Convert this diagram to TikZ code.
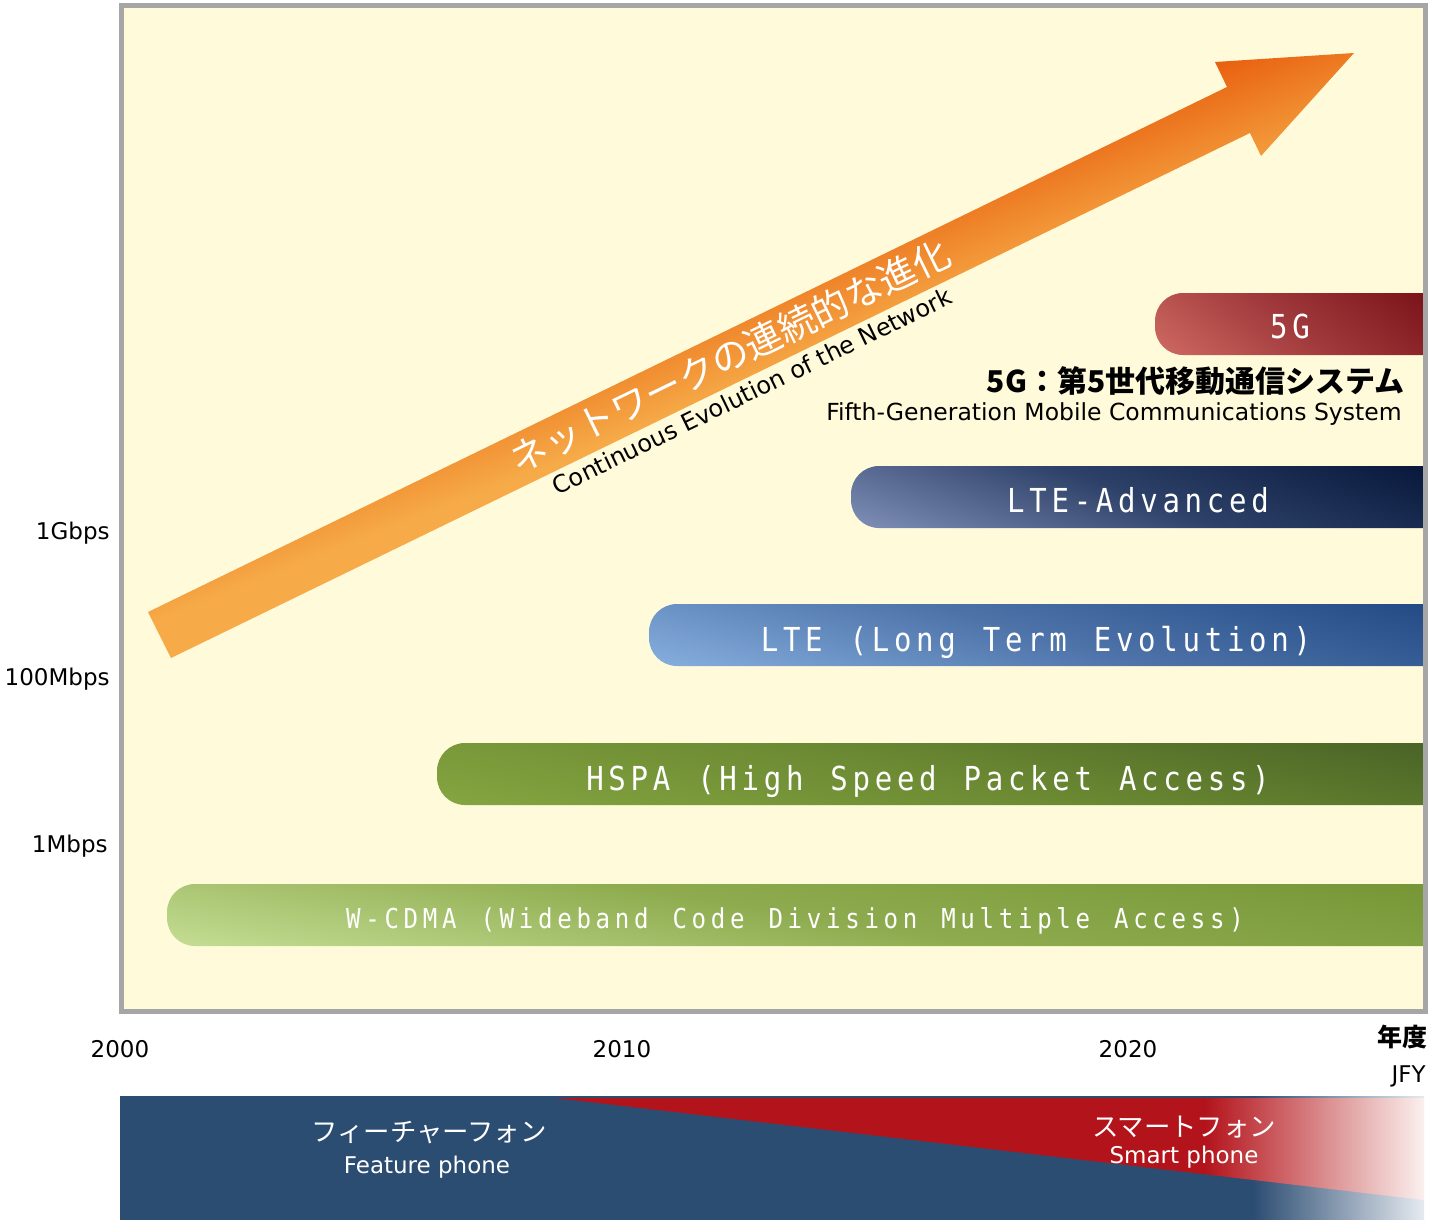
\documentclass[tikz,border=0pt]{standalone}
\usepackage{fontspec}
\setmainfont{DejaVu Sans}
\newfontfamily\cjk{Noto Sans CJK JP}
\newfontfamily\monof[FakeStretch=0.88]{DejaVu Sans Mono}
\definecolor{bgc}{HTML}{FFFBDA}
\definecolor{framec}{HTML}{A6A6A6}
\definecolor{fpblue}{HTML}{2C4D72}
\definecolor{fpfade}{HTML}{E6EAF0}
\definecolor{spred}{HTML}{B3141B}
\definecolor{spfade}{HTML}{FBF0EE}
\definecolor{arlo}{HTML}{F6AB48}
\definecolor{armi}{HTML}{EF852B}
\definecolor{arhi}{HTML}{E85C0E}
\definecolor{wlo}{HTML}{C3DC92}\definecolor{wmi}{HTML}{8EAC4F}\definecolor{whi}{HTML}{779737}
\definecolor{hlo}{HTML}{84A540}\definecolor{hmi}{HTML}{6C8A33}\definecolor{hhi}{HTML}{4A6526}
\definecolor{llo}{HTML}{86AEDD}\definecolor{lmi}{HTML}{4D73A9}\definecolor{lhi}{HTML}{244B85}
\definecolor{alo}{HTML}{8292BA}\definecolor{ami}{HTML}{2E4168}\definecolor{ahi}{HTML}{06173A}
\definecolor{glo}{HTML}{CF6A63}\definecolor{gmi}{HTML}{A03A3C}\definecolor{ghi}{HTML}{7A141A}
\colorlet{lo}{white}\colorlet{mi}{gray}\colorlet{hi}{black}
\pgfdeclarehorizontalshading[lo,mi,hi]{barsh}{100bp}{color(0bp)=(lo); color(46.75bp)=(lo); color(50bp)=(mi); color(53.25bp)=(hi); color(100bp)=(hi)}
\pgfdeclarehorizontalshading[lo,mi,hi]{barshg}{100bp}{color(0bp)=(lo); color(47.33bp)=(lo); color(50bp)=(mi); color(52.67bp)=(hi); color(100bp)=(hi)}
\pgfdeclarehorizontalshading[lo,mi,hi]{tightsh}{100bp}{color(0bp)=(lo); color(48.28bp)=(lo); color(50bp)=(mi); color(51.72bp)=(hi); color(100bp)=(hi)}
\ExplSyntaxOn
\NewDocumentCommand \monotext { m m } { \str_map_inline:nn {#2} { \makebox[#1][c]{##1} } }
\ExplSyntaxOff
\newcommand\techbar[4]{% x0, ytop, angle, shading
  \begin{scope}
  \clip[rounded corners=14pt] (1500,#2) -- (#1,#2) -- (#1,#2+62) -- (1500,#2+62) -- cycle;
  \shade[shading=#4, shading angle=#3] ({(#1+1424)/2-1000},{#2+31-1000}) rectangle ++(2000,2000);
  \end{scope}
}
\begin{document}
\begin{tikzpicture}[x=0.5pt, y=-0.5pt,
  lbl/.style={font=\fontsize{11.5pt}{13pt}\selectfont, inner sep=0pt},
  bartxt/.style={text=white, inner sep=0pt, anchor=base},
  bigmono/.style={font=\monof\fontsize{16.5pt}{19pt}\selectfont},
  whitetxt/.style={text=white, inner sep=0pt}]
\useasboundingbox (0,0) rectangle (1430,1220);
% frame background
\fill[bgc] (121,5.5) rectangle (1425.5,1011);
\begin{scope}
\clip (121,5.5) rectangle (1424,1011);
% bars
\colorlet{lo}{glo}\colorlet{mi}{gmi}\colorlet{hi}{ghi}
\techbar{1155}{293}{52.3}{barshg}
\colorlet{lo}{alo}\colorlet{mi}{ami}\colorlet{hi}{ahi}
\techbar{851}{466}{70.1}{barsh}
\colorlet{lo}{llo}\colorlet{mi}{lmi}\colorlet{hi}{lhi}
\techbar{649}{604}{74.9}{barsh}
\colorlet{lo}{hlo}\colorlet{mi}{hmi}\colorlet{hi}{hhi}
\techbar{437}{743}{78.1}{barsh}
\colorlet{lo}{wlo}\colorlet{mi}{wmi}\colorlet{hi}{whi}
\techbar{167}{884}{80.6}{barsh}
% arrow
\begin{scope}
\clip (148,612) -- (1227,87) -- (1215,62) -- (1354,53) -- (1261,156) -- (1250,133) -- (171,658) -- cycle;
\colorlet{lo}{arlo}\colorlet{mi}{armi}\colorlet{hi}{arhi}
\shade[shading=tightsh, shading angle=111.5] (-221,-698) rectangle (1779,1302);
\end{scope}
\end{scope}
% bar texts
\node[bartxt, bigmono] (t5g) at (1290,338) {\monotext{11.1pt}{5G}};
\node[bartxt, bigmono] (tltea) at (1138,512) {\monotext{11.1pt}{LTE-Advanced}};
\node[bartxt, bigmono] (tlte) at (1036,651) {\monotext{11.1pt}{LTE (Long Term Evolution)}};
\node[bartxt, bigmono] (thspa) at (928,790) {\monotext{11.1pt}{HSPA (High Speed Packet Access)}};
\node[bartxt, font=\monof\fontsize{13.7pt}{16pt}\selectfont] (twcdma) at (795,928) {\monotext{9.6pt}{W-CDMA (Wideband Code Division Multiple Access)}};
% arrow texts
\node[whitetxt, rotate=25.94, font=\cjk\fontsize{18.6pt}{20pt}\selectfont] (jparrow) at (730,356) {ネットワークの連続的な進化};
\node[inner sep=0pt, rotate=25.94, font=\fontsize{12pt}{14pt}\selectfont] (enarrow) at (752,391) {Continuous Evolution of the Network};
% 5G caption
\node[anchor=east, inner sep=0pt, font=\cjk\bfseries\fontsize{15pt}{17pt}\selectfont] (cap5g) at (1405,381) {5G：第5世代移動通信システム};
\node[anchor=base east, inner sep=0pt, font=\fontsize{11.75pt}{13pt}\selectfont] (cap5gen) at (1402,420) {Fifth-Generation Mobile Communications System};
% frame border
\draw[framec, line width=2.5pt] (121,5.5) rectangle (1425.5,1011);
% axis labels
\node[lbl, anchor=base east] (g1) at (110,539) {1Gbps};
\node[lbl, anchor=base east] (m100) at (110,685) {100Mbps};
\node[lbl, anchor=base east] (m1) at (108,852) {1Mbps};
\node[lbl, anchor=base] (y2000) at (120,1057) {2000};
\node[lbl, anchor=base] (y2010) at (622,1057) {2010};
\node[lbl, anchor=base] (y2020) at (1128,1057) {2020};
\node[anchor=east, inner sep=0pt, font=\cjk\bfseries\fontsize{12.5pt}{14pt}\selectfont] (nendo) at (1428,1037) {年度};
\node[lbl, anchor=base east] (jfy) at (1426,1082) {JFY};
% bottom band
\fill[fpblue] (120,1096) rectangle (1253,1220);
\shade[left color=fpblue, right color=fpfade] (1253,1096) rectangle (1424,1220);
\begin{scope}
\clip (555,1098) -- (1424,1098) -- (1424,1200) -- cycle;
\fill[spred] (550,1090) rectangle (1205,1210);
\shade[left color=spred, right color=spfade] (1205,1090) rectangle (1424,1210);
\end{scope}
\node[whitetxt, font=\cjk\fontsize{13.2pt}{15pt}\selectfont] (fpjp) at (429,1133) {フィーチャーフォン};
\node[whitetxt, anchor=base, font=\fontsize{11.5pt}{13pt}\selectfont] (fpen) at (427,1173) {Feature phone};
\node[whitetxt, font=\cjk\fontsize{13.2pt}{15pt}\selectfont] (spjp) at (1184,1127) {スマートフォン};
\node[whitetxt, anchor=base, font=\fontsize{11.5pt}{13pt}\selectfont] (spen) at (1184,1163) {Smart phone};
\end{tikzpicture}
\end{document}
